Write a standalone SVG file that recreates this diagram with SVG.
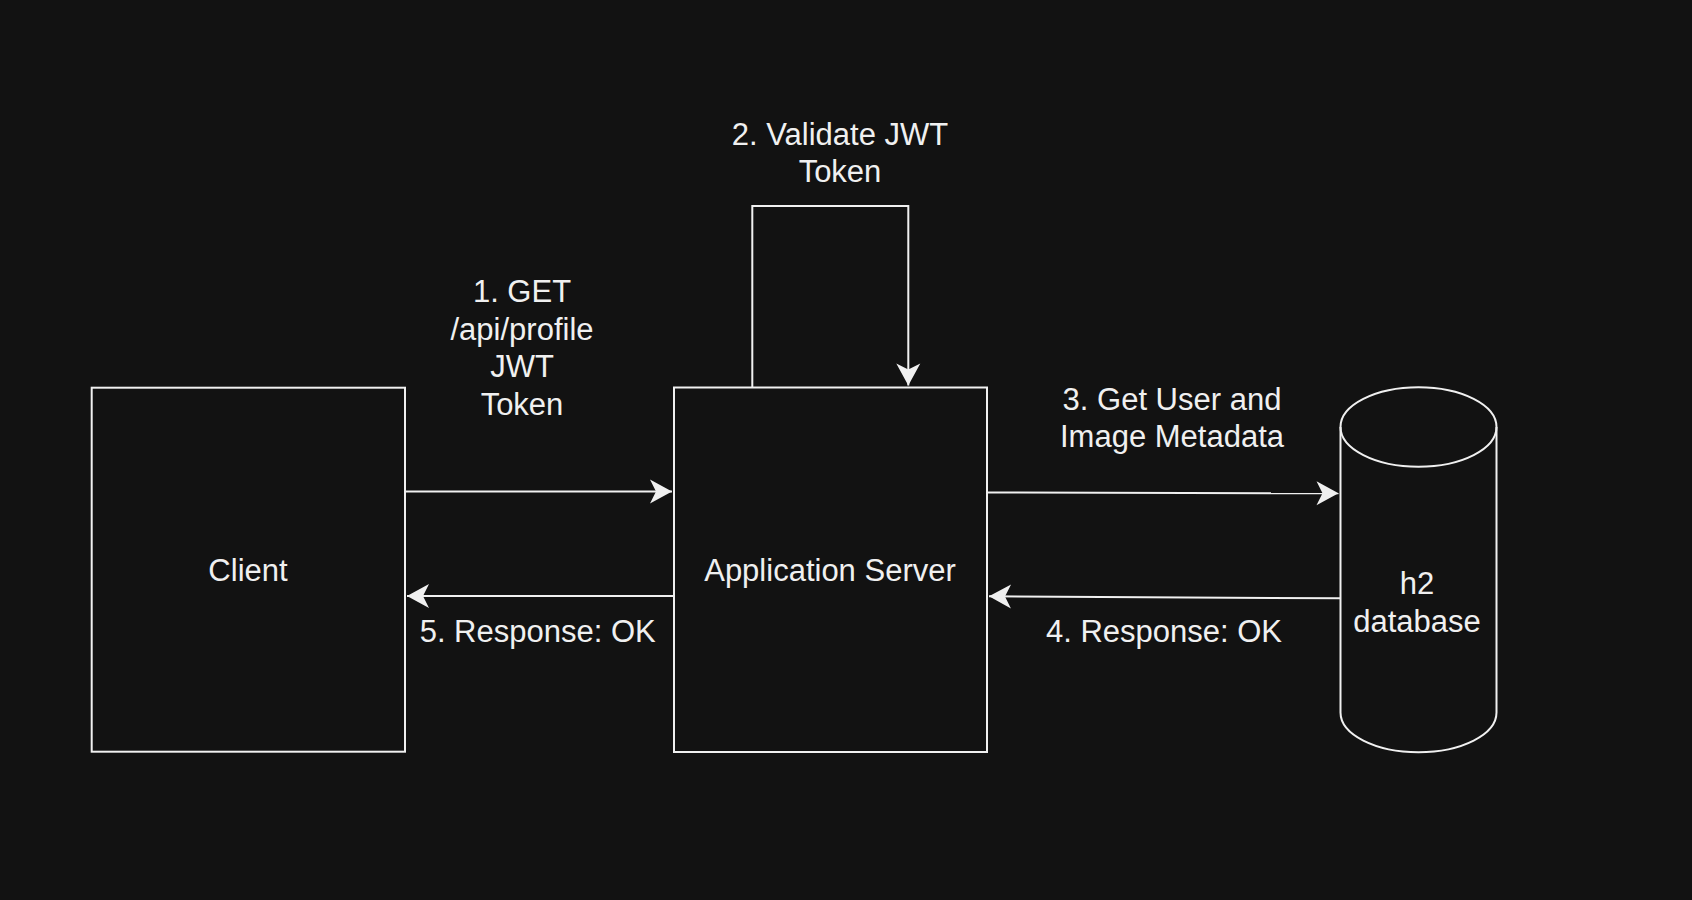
<svg xmlns="http://www.w3.org/2000/svg" width="1692" height="900" viewBox="0 0 1692 900">
  <style>
    .shape { fill: #121212; stroke: #f0f0f0; stroke-width: 2; }
    .edge { fill: none; stroke: #f0f0f0; stroke-width: 2; }
    .lbl { font-family: "Liberation Sans", Arial, Helvetica, sans-serif; font-size: 31px; fill: #f0f0f0; text-anchor: middle; }
  </style>
  <defs>
    <marker id="arrow" viewBox="-23 -13 24 26" refX="0" refY="0" markerWidth="24" markerHeight="26" markerUnits="userSpaceOnUse" orient="auto">
      <path d="M0,0 L-22,-12 L-16,0 L-22,12 Z" fill="#f0f0f0" stroke="none"/>
    </marker>
  </defs>
  <rect x="0" y="0" width="1692" height="900" fill="#121212"/>

  <g id="connectors">
    <g id="edge-1">
      <path class="edge" d="M405,491.5 L672,491.5" marker-end="url(#arrow)"/>
      <text class="lbl" x="522" y="301.7">1. GET</text>
      <text class="lbl" x="522" y="339.5">/api/profile</text>
      <text class="lbl" x="522" y="377.3">JWT</text>
      <text class="lbl" x="522" y="415">Token</text>
    </g>
    <g id="edge-2">
      <path class="edge" d="M752.3,387.5 L752.3,206 L908.3,206 L908.3,385.5" marker-end="url(#arrow)"/>
      <text class="lbl" x="840" y="145">2. Validate JWT</text>
      <text class="lbl" x="840" y="181.7">Token</text>
    </g>
    <g id="edge-3">
      <path class="edge" d="M987,492.5 L1338.5,493.3" marker-end="url(#arrow)"/>
      <text class="lbl" x="1172" y="410">3. Get User and</text>
      <text class="lbl" x="1172" y="447">Image Metadata</text>
    </g>
    <g id="edge-4">
      <path class="edge" d="M1340.5,598.3 L989,596.3" marker-end="url(#arrow)"/>
      <text class="lbl" x="1164" y="641.7">4. Response: OK</text>
    </g>
    <g id="edge-5">
      <path class="edge" d="M674,596 L407,596" marker-end="url(#arrow)"/>
      <text class="lbl" x="537.7" y="641.7">5. Response: OK</text>
    </g>
  </g>

  <g id="client">
    <rect class="shape" x="91.7" y="387.7" width="313.3" height="364"/>
    <text class="lbl" x="248" y="581">Client</text>
  </g>

  <g id="app-server">
    <rect class="shape" x="674" y="387.5" width="313" height="364.5"/>
    <text class="lbl" x="830" y="580.7">Application Server</text>
  </g>

  <g id="h2-database">
    <path class="shape" d="M1340.5,427 A78,39.7 0 0 1 1496.5,427 L1496.5,712.6 A78,39.7 0 0 1 1340.5,712.6 Z"/>
    <path class="edge" d="M1340.5,427 A78,39.7 0 0 0 1496.5,427"/>
    <text class="lbl" x="1417" y="594.3">h2</text>
    <text class="lbl" x="1417" y="631.7">database</text>
  </g>
</svg>
